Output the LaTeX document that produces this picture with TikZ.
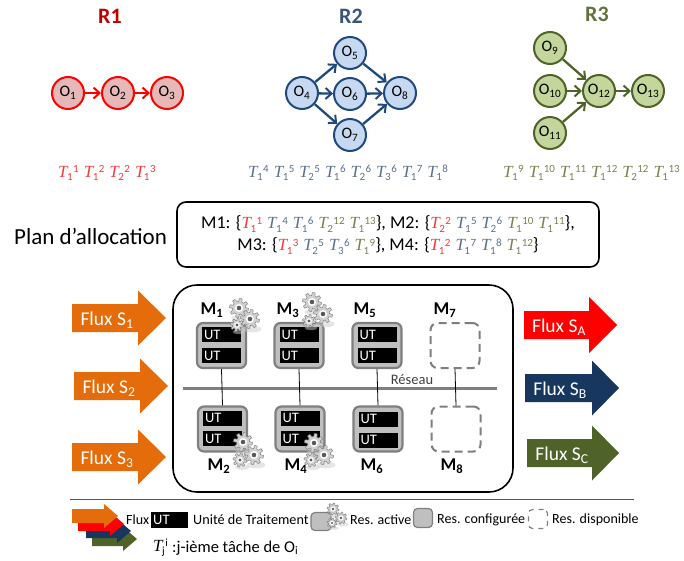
\documentclass[tikz,border=0pt]{standalone}
\usepackage{fontspec}
\setmainfont{Carlito}
\newfontfamily\tfont{Liberation Serif}
\usetikzlibrary{arrows.meta}
\definecolor{rA}{HTML}{FF0000}
\definecolor{rT}{HTML}{C00000}
\definecolor{rF}{HTML}{E6B9B8}
\definecolor{bA}{HTML}{1F497D}
\definecolor{bF}{HTML}{C6D9F1}
\definecolor{bD}{HTML}{17375E}
\definecolor{bT}{HTML}{5A7091}
\definecolor{gA}{HTML}{4F6228}
\definecolor{gF}{HTML}{C3D69B}
\definecolor{gT}{HTML}{76844F}
\definecolor{rL}{HTML}{F43A3A}
\definecolor{orng}{HTML}{E46C0A}
\definecolor{mF}{HTML}{BFBFBF}
\definecolor{mL}{HTML}{7F7F7F}
\newcommand\tk[3]{{\fontsize{17}{17}\tfont\itshape T}\kern-.5pt\raisebox{-3.5pt}{\fontsize{11}{11}\selectfont #1}\kern.5pt\raisebox{4.5pt}{\fontsize{11}{11}\selectfont #2}#3}
\newcommand\rd[2]{\textcolor{rL}{\tk{#1}{#2}{}}}
\newcommand\bl[2]{\textcolor{bT}{\tk{#1}{#2}{}}}
\newcommand\gr[2]{\textcolor{gT}{\tk{#1}{#2}{}}}
\newcommand\tsp{\hspace{5pt}}
\newcommand\gearat[3]{\begin{scope}[shift={(#1,#2)}]
\fill[black!20,opacity=.5] (2,{#3*1.05}) ellipse ({#3*1.0} and {#3*.35});
\draw[draw=black!50,fill=black!18,line width=.5pt] plot[smooth,samples=121,domain=0:360] (\x:{#3*(.84+.16*max(-1,min(1,2.5*sin(8*\x))))}) -- cycle;
\fill[white] (0,0) circle ({#3*.42});
\fill[black!65] (0,0) circle ({#3*.24});
\end{scope}}
\tikzset{
 opn/.style={circle,draw,line width=2pt,minimum size=32pt,inner sep=0pt,font=\fontsize{16}{16}\selectfont},
 ored/.style={opn,draw=rA,fill=rF},
 oblue/.style={opn,draw=bA,fill=bF},
 ogreen/.style={opn,draw=gA,fill=gF},
 lnk/.style={line width=2.3pt,-{Straight Barb[length=6pt,width=11pt,line width=2pt]}},
 title/.style={font=\fontsize{22}{22}\selectfont\bfseries},
 rowt/.style={anchor=west,inner sep=0pt},
 box/.style={draw=black,line width=1.6pt,fill=white},
 mach/.style={draw=mL,fill=mF,line width=2.2pt,rounded corners=6pt,minimum width=49pt,minimum height=45pt,inner sep=0pt},
 avail/.style={draw=mL,dash pattern=on 8pt off 5pt,line width=2pt,fill=white,rounded corners=7pt,minimum width=49pt,minimum height=45pt,inner sep=0pt},
 utbar/.style={fill=black,text=white,minimum height=15pt,text width=35pt,inner xsep=2pt,inner ysep=0pt,font=\fontsize{14.5}{14.5}\selectfont,align=left},
 mlab/.style={inner sep=0pt,font=\fontsize{18}{18}\selectfont\bfseries},
 wire/.style={draw=black,line width=.8pt},
 fluxt/.style={text=white,inner sep=0pt,font=\fontsize{19.5}{19.5}\selectfont},
 leg/.style={anchor=west,inner sep=0pt,font=\fontsize{14}{14}\selectfont},
 allocl/.style={inner sep=0pt,font=\fontsize{18}{20}\selectfont},
}
\newcommand\flux[7]{\fill[#7] (#1,#4-#5) -- (#2,#4-#5) -- (#2,#4-#6) -- (#3,#4) -- (#2,#4+#6) -- (#2,#4+#5) -- (#1,#4+#5) -- cycle;}
\begin{document}
\begin{tikzpicture}[x=1pt,y=-1pt]
\useasboundingbox (0,0) rectangle (684,560);
\node[title,text=rT] (r1) at (110,16) {R1};
\node[title,text=bD!85!white] (r2) at (351,16) {R2};
\node[title,text=gA!90!white] (r3) at (597,14) {R3};
\node[ored] (o1) at (68,93) {O\textsubscript{1}};
\node[ored] (o2) at (118,93) {O\textsubscript{2}};
\node[ored] (o3) at (167,93) {O\textsubscript{3}};
\draw[lnk,rA] (o1) -- (o2);
\draw[lnk,rA] (o2) -- (o3);
\node[oblue] (o4) at (302,93) {O\textsubscript{4}};
\node[oblue] (o5) at (350,53) {O\textsubscript{5}};
\node[oblue] (o6) at (350,94) {O\textsubscript{6}};
\node[oblue] (o7) at (350,135) {O\textsubscript{7}};
\node[oblue] (o8) at (400,93) {O\textsubscript{8}};
\foreach \a/\b in {o4/o5,o4/o6,o4/o7,o5/o8,o6/o8,o7/o8}{\draw[lnk,bA] (\a) -- (\b);}
\node[ogreen] (o9) at (550,48) {O\textsubscript{9}};
\node[ogreen] (o10) at (550,91) {O\textsubscript{10}};
\node[ogreen] (o11) at (550,133) {O\textsubscript{11}};
\node[ogreen] (o12) at (599,91) {O\textsubscript{12}};
\node[ogreen] (o13) at (648,91) {O\textsubscript{13}};
\foreach \a/\b in {o9/o12,o10/o12,o11/o12,o12/o13}{\draw[lnk,gA] (\a) -- (\b);}
\node[rowt] (t1) at (58,173) {\rd11\tsp\rd12\tsp\rd22\tsp\rd13};
\node[rowt] (t2) at (248,173) {\bl14\tsp\bl15\tsp\bl25\tsp\bl16\tsp\bl26\tsp\bl36\tsp\bl17\tsp\bl18};
\node[rowt] (t3) at (503,173) {\gr19\tsp\gr1{10}\tsp\gr1{11}\tsp\gr1{12}\tsp\gr2{12}\tsp\gr1{13}};
\node[anchor=west,inner sep=0pt,font=\fontsize{23}{23}\selectfont] (plan) at (14,236) {Plan d’allocation};
\draw[box,rounded corners=9pt] (177,202) rectangle (599,267);
\node[allocl] (al1) at (388,224) {M1: \{\rd11\tsp\bl14\tsp\bl16\tsp\gr2{12}\tsp\gr1{13}\}, M2: \{\rd22\tsp\bl15\tsp\bl26\tsp\gr1{10}\tsp\gr1{11}\},};
\node[allocl] (al2) at (388,246) {M3: \{\rd13\tsp\bl25\tsp\bl36\tsp\gr19\}, M4: \{\rd12\tsp\bl17\tsp\bl18\tsp\gr1{12}\}};
\flux{72}{138}{166}{318}{14}{27.5}{orng}
\flux{74}{140}{168}{386}{14}{27.5}{orng}
\flux{72}{138}{166}{457}{14}{27.5}{orng}
\flux{524}{589}{617}{325}{14}{28}{rA}
\flux{525}{592}{619}{388}{14}{27.5}{bD}
\flux{527}{592}{619}{453}{14}{27.5}{gA}
\node[fluxt] (fs1) at (107,320) {Flux S\textsubscript{1}};
\node[fluxt] (fs2) at (109,388) {Flux S\textsubscript{2}};
\node[fluxt] (fs3) at (107,459) {Flux S\textsubscript{3}};
\node[fluxt] (fsa) at (559,327) {Flux S\textsubscript{A}};
\node[fluxt] (fsb) at (560,390) {Flux S\textsubscript{B}};
\node[fluxt] (fsc) at (562,455) {Flux S\textsubscript{C}};
\draw[box,line width=1.6pt,rounded corners=24pt] (173,285) rectangle (513,492);
\node[mach] (m1) at (221.5,345.5) {};
\node[mach] (m3) at (299,345.5) {};
\node[mach] (m5) at (377,345.5) {};
\node[avail] (m7) at (455,345.5) {};
\node[mach] (m2) at (222.5,429) {};
\node[mach] (m4) at (300,429) {};
\node[mach] (m6) at (378,429) {};
\node[avail] (m8) at (456,429) {};
\draw[draw=mL,line width=3pt] (183,388) -- (497,388);
\foreach \a/\b in {m1/m2,m3/m4,m5/m6,m7/m8}{\draw[wire] (\a.south) -- (\b.north);}
\node[inner sep=0pt,text=black!75,font=\fontsize{14.5}{15}\selectfont] (net) at (412,380) {Réseau};
\foreach \n/\x/\y in {a/221.5/334.5,b/221.5/355.5,c/299/334.5,d/299/355.5,e/377/334.5,f/377/355.5,g/222.5/418,h/222.5/438.5,i/300/418,j/300/438.5,k/378/419,l/378/440}{
 \node[utbar] (ut\n) at (\x,\y) {UT};
}
\node[mlab] (lm1) at (212,310) {M\textsubscript{1}};
\node[mlab] (lm3) at (288,310) {M\textsubscript{3}};
\node[mlab] (lm5) at (365,310) {M\textsubscript{5}};
\node[mlab] (lm7) at (445,310) {M\textsubscript{7}};
\node[mlab] (lm2) at (219,466) {M\textsubscript{2}};
\node[mlab] (lm4) at (296,466) {M\textsubscript{4}};
\node[mlab] (lm6) at (372,466) {M\textsubscript{6}};
\node[mlab] (lm8) at (452,466) {M\textsubscript{8}};
\gearat{239}{308}{9.5}\gearat{250}{319}{9.5}\gearat{237}{325}{6.5}
\gearat{312}{302}{9.5}\gearat{323}{314}{9.5}\gearat{309}{321}{6.5}
\gearat{243}{442}{9.5}\gearat{254}{455}{9.5}\gearat{240}{460}{7}
\gearat{314}{443}{9.5}\gearat{324}{455}{9.5}\gearat{311}{460}{7}
\draw[draw=black!65,line width=1pt] (70,499.5) -- (634,499.5);
\flux{92}{123}{137}{539}{7}{12}{gA}
\flux{86}{117}{131}{531}{7}{12}{bD}
\flux{78}{110}{124}{524}{7}{12}{rA}
\flux{72}{104}{118}{516}{7}{12}{orng}
\node[leg] (lf) at (126,520) {Flux};
\node[utbar,anchor=west,text width=33pt,minimum height=16pt] (lut) at (151,520) {UT};
\node[leg,font=\fontsize{14.2}{15}\selectfont] (lu) at (193,520) {Unité de Traitement};
\node[mach,minimum width=20pt,minimum height=18pt,rounded corners=4pt,line width=1.2pt] (la) at (321,521.5) {};
\gearat{333}{509}{6}\gearat{341}{518}{6}\gearat{332}{523}{5}
\node[leg] (lra) at (350,520) {Res. active};
\node[mach,minimum width=19pt,minimum height=19pt,rounded corners=4pt,line width=1.2pt] (lc) at (423,518) {};
\node[leg] (lrc) at (437,520) {Res. configurée};
\node[avail,minimum width=19pt,minimum height=19pt,rounded corners=4pt,line width=1.2pt,dash pattern=on 5pt off 5pt] (ld) at (538,519) {};
\node[leg] (lrd) at (552,520) {Res. disponible};
\node[anchor=west,inner sep=0pt] (ltj) at (153,548) {\tk ji{}};
\node[leg,font=\fontsize{16.5}{17}\selectfont] (ltx) at (172,548) {:j-ième tâche de O\textsubscript{i}};
\end{tikzpicture}
\end{document}
